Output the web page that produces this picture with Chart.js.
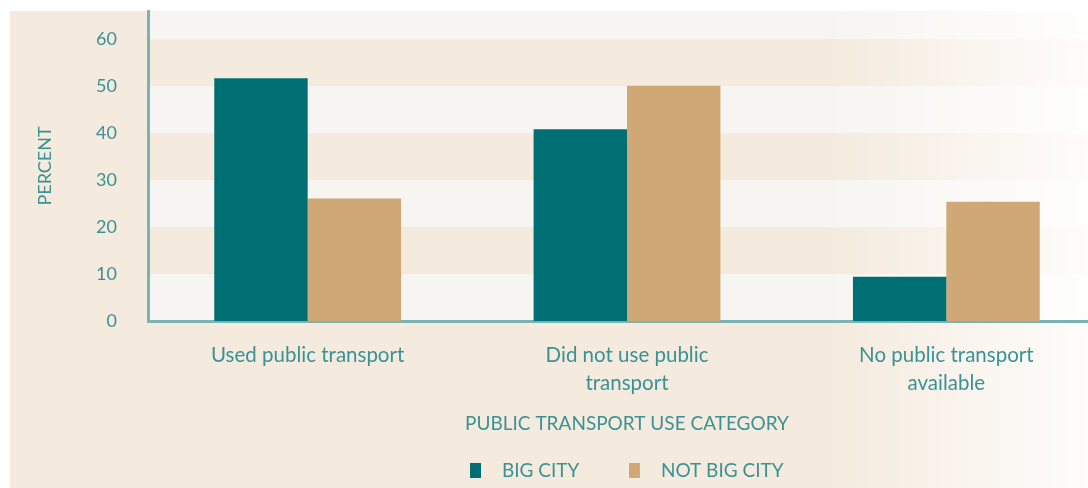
<!DOCTYPE html>
<html>
<head>
<meta charset="utf-8">
<script src="https://cdn.jsdelivr.net/npm/chart.js@4.4.1/dist/chart.umd.min.js"></script>
<style>
  html, body { margin: 0; padding: 0; background: #fff; }
  #frame { width: 1088px; height: 488px; overflow: hidden; }
  #wrap { width: 1106px; height: 488px; position: relative; }
</style>
</head>
<body>
<div id="frame"><div id="wrap"><canvas id="myChart"></canvas></div></div>
<script>
const categories = [['Used public transport'], ['Did not use public', 'transport'], ['No public transport', 'available']];
const bigCity = [51.7, 40.8, 9.4];
const notBigCity = [26.1, 50.1, 25.4];
const seriesNames = ['BIG CITY', 'NOT BIG CITY'];
const yTicks = [0, 10, 20, 30, 40, 50, 60];

const textColor = '#3a9294';
const axisColor = '#7ab3b4';
const teal = '#006f74';
const tan = '#cfa876';

// small legend swatch with some empty room on its right
const swatch = (color) => {
  const c = document.createElement('canvas');
  c.width = 23;
  c.height = 15;
  const g = c.getContext('2d');
  g.fillStyle = color;
  g.fillRect(0, 0, 11, 15);
  return c;
};

// paper background, stripes and the fade to white on the right
const backdrop = {
  id: 'backdrop',
  beforeDraw(chart) {
    const { ctx, chartArea: a, scales } = chart;
    const w = chart.width, h = chart.height;
    ctx.save();
    ctx.fillStyle = '#f4eadd';
    ctx.fillRect(10, 11, w - 10, h - 11);
    const y = scales.y;
    for (let i = 0; i * 10 < y.max; i += 2) {
      const top = y.getPixelForValue(Math.min((i + 1) * 10, y.max));
      const bot = y.getPixelForValue(i * 10);
      ctx.fillStyle = '#f7f5f1';
      ctx.fillRect(a.left, top, w - a.left, bot - top);
    }
    const g = ctx.createLinearGradient(820, 0, 1095, 0);
    g.addColorStop(0, 'rgba(255,255,255,0)');
    g.addColorStop(1, 'rgba(255,255,255,0.92)');
    ctx.fillStyle = g;
    ctx.fillRect(820, 11, w - 820, h - 11);
    ctx.restore();
  }
};

const ctx = document.getElementById('myChart').getContext('2d');
const chart = new Chart(ctx, {
  type: 'bar',
  data: {
    labels: categories,
    datasets: [{
      label: seriesNames[0],
      data: bigCity,
      backgroundColor: teal,
      pointStyle: swatch(teal)
    }, {
      label: seriesNames[1],
      data: notBigCity,
      backgroundColor: tan,
      pointStyle: swatch(tan)
    }]
  },
  options: {
    responsive: true,
    maintainAspectRatio: false,
    animation: false,
    layout: { padding: { top: 11, left: 10, right: 0, bottom: -2 } },
    datasets: { bar: { categoryPercentage: 0.585, barPercentage: 1.0 } },
    plugins: {
      tooltip: { enabled: false },
      legend: {
        position: 'bottom',
        fullSize: false,
        labels: {
          color: textColor,
          font: { family: 'Lato', size: 19 },
          usePointStyle: true,
          pointStyleWidth: 22,
          boxHeight: 15,
          padding: 50
        }
      }
    },
    scales: {
      x: {
        grid: { display: false },
        border: { display: true, color: axisColor, width: 3 },
        afterFit(scale) {
          scale.height = 90;
        },
        ticks: {
          color: textColor,
          font: { family: 'Lato', size: 20.5, lineHeight: 1.37 },
          padding: 12,
          maxRotation: 0,
          autoSkip: false
        },
        title: {
          display: true,
          text: 'PUBLIC TRANSPORT USE CATEGORY',
          color: textColor,
          font: { family: 'Lato', size: 19 },
          padding: { top: 0, bottom: -24 }
        }
      },
      y: {
        min: 0,
        max: 66,
        grid: { display: false },
        border: { display: true, color: axisColor, width: 3 },
        afterBuildTicks(scale) {
          scale.ticks = yTicks.map(v => ({ value: v }));
        },
        afterFit(scale) {
          scale.width = 138;
          scale.paddingTop = 0;
          scale.paddingBottom = 0;
        },
        ticks: {
          color: textColor,
          font: { family: 'Lato', size: 18 },
          padding: 23
        },
        title: {
          display: true,
          text: 'PERCENT',
          color: textColor,
          font: { family: 'Lato', size: 18 },
          padding: { top: 24, bottom: 0 }
        }
      }
    }
  },
  plugins: [backdrop]
});
</script>
</body>
</html>
